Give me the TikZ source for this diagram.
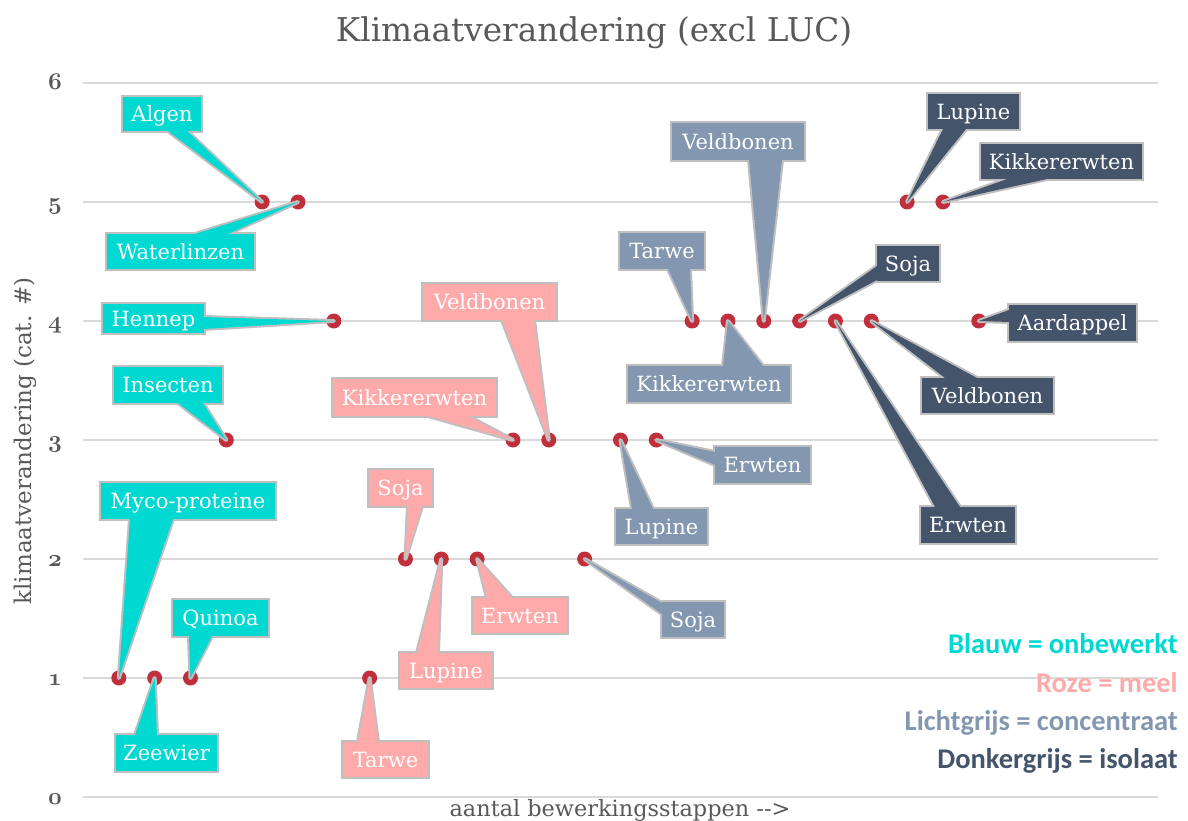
\documentclass[tikz,border=0pt]{standalone}
\usepackage{fontspec}
\setmainfont{DejaVu Serif}
\newfontfamily\legfont{Carlito}
\usetikzlibrary{calc}
\definecolor{cteal}{HTML}{00D8D2}
\definecolor{cpink}{HTML}{FFAAAA}
\definecolor{clg}{HTML}{8497B0}
\definecolor{cdk}{HTML}{44546A}
\definecolor{cbord}{HTML}{BFBFBF}
\definecolor{cdot}{HTML}{C0303C}
\definecolor{ctxt}{HTML}{595959}
\definecolor{cgrid}{HTML}{D9D9D9}
\pgfdeclarelayer{gridl}
\pgfdeclarelayer{dotl}
\pgfdeclarelayer{bordl}
\pgfdeclarelayer{filll}
\pgfsetlayers{gridl,dotl,bordl,filll,main}
\tikzset{
  lab/.style={inner sep=0pt, outer sep=0pt, text=white, text height=15.5pt, text depth=0pt,
    font=\fontsize{21}{24}\selectfont},
  dotmark/.style={circle, fill=cdot, inner sep=0pt, minimum size=15pt},
  gridline/.style={draw=cgrid, line width=1.5pt},
  axistext/.style={text=ctxt, inner sep=0pt},
  ticktext/.style={text=ctxt, inner sep=0pt, anchor=base, scale=2.4, transform shape},
  boxbord/.style={draw=cbord, line width=4pt, line join=miter},
  tailbord/.style={draw=cbord, line width=4pt, line join=round},
  legtext/.style={inner sep=0pt, anchor=base east, font=\legfont\bfseries\fontsize{28.5}{30}\selectfont},
}
\newcommand{\callout}[7]{%
  \node[lab, minimum width={(#5-#3)*1pt}, minimum height={(#6-#4)*1pt}] (#1) at ({(#3+#5)/2},{(#4+#6)/2}) {#7};
  \begin{pgfonlayer}{bordl}\path[boxbord] (#1.south west) rectangle (#1.north east);\end{pgfonlayer}
  \begin{pgfonlayer}{filll}\fill[#2] (#1.south west) rectangle (#1.north east);\end{pgfonlayer}}
\newcommand{\tail}[4]{%
  \begin{pgfonlayer}{bordl}\path[tailbord] #2 -- #3 -- (#4.center) -- cycle;\end{pgfonlayer}
  \begin{pgfonlayer}{filll}\fill[#1] #2 -- #3 -- (#4.center) -- cycle;\end{pgfonlayer}}
\newcommand{\osnum}[1]{{\fontsize{10}{10}\usefont{OML}{cmm}{b}{it}#1}}
\begin{document}
\begin{tikzpicture}[x=1pt,y=-1pt]
\useasboundingbox (0,0) rectangle (1188,821);
% grid
\begin{pgfonlayer}{gridl}
\foreach \v in {0,...,6} {
  \coordinate (gl\v) at (83,{797-119*\v});
  \coordinate (gr\v) at (1158,{797-119*\v});
  \path[gridline] (gl\v) -- (gr\v);
}
\end{pgfonlayer}
\foreach \v in {0,...,6} {
  \node[ticktext] (tick\v) at (55,{797-119*\v+7}) {\osnum{\v}};
}
% title and axes
\node[axistext, anchor=base, font=\fontsize{32.7}{36}\selectfont] (title) at (594,42) {Klimaatverandering (excl LUC)};
\node[axistext, anchor=base, font=\fontsize{22.4}{26}\selectfont] (xlab) at (620,816) {aantal bewerkingsstappen \mbox{-}\mbox{-}>};
\node[axistext, rotate=90, font=\fontsize{23}{26}\selectfont] (ylab) at (25,441) {klimaatverandering (cat. \#)};
% dots
\begin{pgfonlayer}{dotl}
\foreach \k/\v in {1/1,2/1,3/1,4/3,5/5,6/5,7/4,8/1,9/2,10/2,11/2,12/3,13/3,14/2,15/3,16/3,17/4,18/4,19/4,20/4,21/4,22/4,23/5,24/5,25/4}
  \node[dotmark] (d\k) at ({83+35.83*\k},{797-119*\v}) {};
\end{pgfonlayer}
% teal (onbewerkt)
\callout{algen}{cteal}{123}{97}{201}{131}{Algen}
\tail{cteal}{($(algen.south west)+(45,0)$)}{($(algen.south west)+(64,0)$)}{d5}
\callout{waterl}{cteal}{107}{234}{254}{269}{Waterlinzen}
\tail{cteal}{($(waterl.north west)+(88,0)$)}{($(waterl.north west)+(121,0)$)}{d6}
\callout{hennep}{cteal}{103}{304}{204}{333}{Hennep}
\tail{cteal}{($(hennep.north east)+(0,13)$)}{($(hennep.north east)+(0,25)$)}{d7}
\callout{insect}{cteal}{114}{367}{222}{403}{Insecten}
\tail{cteal}{($(insect.south west)+(64,0)$)}{($(insect.south west)+(89,0)$)}{d4}
\callout{myco}{cteal}{101}{483}{275}{519}{Myco-proteine}
\tail{cteal}{($(myco.south west)+(29,0)$)}{($(myco.south west)+(72,0)$)}{d1}
\callout{zeew}{cteal}{116}{735}{217}{771}{Zeewier}
\tail{cteal}{($(zeew.north west)+(19,0)$)}{($(zeew.north west)+(41,0)$)}{d2}
\callout{quin}{cteal}{173}{600}{268}{636}{Quinoa}
\tail{cteal}{($(quin.south west)+(16,0)$)}{($(quin.south west)+(39,0)$)}{d3}
% pink (meel)
\callout{ptarwe}{cpink}{343}{742}{428}{777}{Tarwe}
\tail{cpink}{($(ptarwe.north west)+(15,0)$)}{($(ptarwe.north west)+(35,0)$)}{d8}
\callout{psoja}{cpink}{369}{470}{432}{506}{Soja}
\tail{cpink}{($(psoja.south west)+(39,0)$)}{($(psoja.south west)+(53,0)$)}{d9}
\callout{plupine}{cpink}{400}{653}{492}{688}{Lupine}
\tail{cpink}{($(plupine.north west)+(17,0)$)}{($(plupine.north west)+(38,0)$)}{d10}
\callout{perwten}{cpink}{473}{598}{567}{633}{Erwten}
\tail{cpink}{($(perwten.north west)+(14,0)$)}{($(perwten.north west)+(39,0)$)}{d11}
\callout{pkikker}{cpink}{333}{379}{496}{416}{Kikkererwten}
\tail{cpink}{($(pkikker.south west)+(95,0)$)}{($(pkikker.south west)+(135,0)$)}{d12}
\callout{pveld}{cpink}{423}{284}{556}{320}{Veldbonen}
\tail{cpink}{($(pveld.south west)+(79,0)$)}{($(pveld.south west)+(111,0)$)}{d13}
% light grey (concentraat)
\callout{lsoja}{clg}{662}{602}{724}{637}{Soja}
\tail{clg}{($(lsoja.north west)+(0,1)$)}{($(lsoja.north west)+(0,12)$)}{d14}
\callout{llupine}{clg}{616}{509}{707}{544}{Lupine}
\tail{clg}{($(llupine.north west)+(16,0)$)}{($(llupine.north west)+(37,0)$)}{d15}
\callout{lerwten}{clg}{715}{447}{810}{483}{Erwten}
\tail{clg}{($(lerwten.north west)+(0,5)$)}{($(lerwten.north west)+(0,18)$)}{d16}
\callout{ltarwe}{clg}{620}{233}{704}{269}{Tarwe}
\tail{clg}{($(ltarwe.south west)+(48,0)$)}{($(ltarwe.south west)+(70,0)$)}{d17}
\callout{lkikker}{clg}{628}{366}{790}{402}{Kikkererwten}
\tail{clg}{($(lkikker.north west)+(95,0)$)}{($(lkikker.north west)+(135,0)$)}{d18}
\callout{lveld}{clg}{672}{123}{804}{160}{Veldbonen}
\tail{clg}{($(lveld.south west)+(77,0)$)}{($(lveld.south west)+(110,0)$)}{d19}
% dark grey (isolaat)
\callout{dsoja}{cdk}{877}{246}{939}{281}{Soja}
\tail{cdk}{($(dsoja.north west)+(0,20)$)}{($(dsoja.north west)+(0,34)$)}{d20}
\callout{derwten}{cdk}{921}{507}{1015}{543}{Erwten}
\tail{cdk}{($(derwten.north west)+(14,0)$)}{($(derwten.north west)+(39,0)$)}{d21}
\callout{dveld}{cdk}{922}{378}{1053}{413}{Veldbonen}
\tail{cdk}{($(dveld.north west)+(23,0)$)}{($(dveld.north west)+(55,0)$)}{d22}
\callout{dlupine}{cdk}{928}{94}{1019}{129}{Lupine}
\tail{cdk}{($(dlupine.south west)+(15,0)$)}{($(dlupine.south west)+(38,0)$)}{d23}
\callout{dkikker}{cdk}{981}{144}{1142}{179}{Kikkererwten}
\tail{cdk}{($(dkikker.south west)+(26,0)$)}{($(dkikker.south west)+(66,0)$)}{d24}
\callout{daard}{cdk}{1009}{305}{1136}{341}{Aardappel}
\tail{cdk}{($(daard.north west)+(0,5)$)}{($(daard.north west)+(0,17)$)}{d25}
% legend
\node[legtext, text=cteal] (leg1) at (1178,653) {Blauw = onbewerkt};
\node[legtext, text=cpink] (leg2) at (1178,692) {Roze = meel};
\node[legtext, text=clg] (leg3) at (1178,730) {Lichtgrijs = concentraat};
\node[legtext, text=cdk] (leg4) at (1178,768) {Donkergrijs = isolaat};
\end{tikzpicture}
\end{document}
